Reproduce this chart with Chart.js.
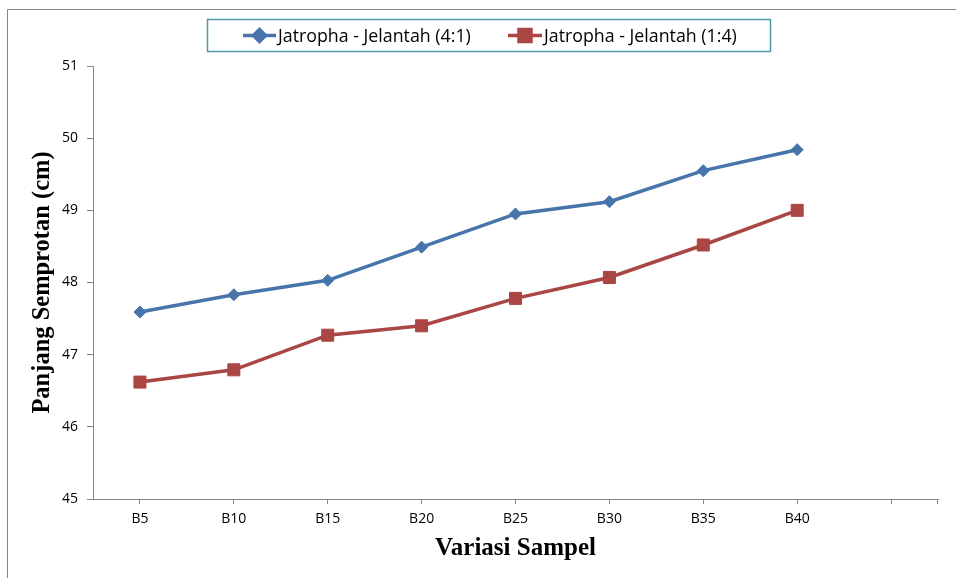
<!DOCTYPE html>
<html>
<head>
<meta charset="utf-8">
<script src="https://cdn.jsdelivr.net/npm/chart.js@4/dist/chart.umd.min.js"></script>
<style>
  html, body { margin: 0; padding: 0; background: #fff; }
  canvas { display: block; }
</style>
</head>
<body>
<canvas id="c" width="956" height="578"></canvas>
<script>
// Sample variations (B-blends); the last slot is left empty on the axis
const categories = ['B5', 'B10', 'B15', 'B20', 'B25', 'B30', 'B35', 'B40', ''];

// Spray length (cm) per blend
const jatrophaJelantah41 = [47.59, 47.83, 48.03, 48.49, 48.95, 49.12, 49.55, 49.84];
const jatrophaJelantah14 = [46.62, 46.79, 47.27, 47.40, 47.78, 48.07, 48.52, 49.00];

const seriesNames = ['Jatropha - Jelantah (4:1)', 'Jatropha - Jelantah (1:4)'];
const yTicks = [45, 46, 47, 48, 49, 50, 51];

const BLUE = '#4674AB';
const RED = '#AA4643';
const AXIS = '#868686';

// Frame around the chart, a boxed legend, and the closing tick at the end of the x axis
const decorations = {
  id: 'decorations',
  afterDraw(chart) {
    const ctx = chart.ctx;
    const area = chart.chartArea;
    ctx.save();

    // outer frame (top and left edges)
    ctx.strokeStyle = AXIS;
    ctx.lineWidth = 1;
    ctx.beginPath();
    ctx.moveTo(7.5, chart.height);
    ctx.lineTo(7.5, 9.5);
    ctx.lineTo(chart.width, 9.5);
    ctx.stroke();

    // closing tick at the right end of the x axis
    ctx.beginPath();
    ctx.moveTo(Math.round(area.right) - 0.5, area.bottom);
    ctx.lineTo(Math.round(area.right) - 0.5, area.bottom + 5);
    ctx.stroke();

    // legend box
    ctx.strokeStyle = '#4F9AAF';
    ctx.lineWidth = 1.5;
    ctx.strokeRect(207.5, 19.5, 563, 32);

    const ly = 35.5;
    const items = [
      { x0: 243, x1: 276, color: BLUE, style: 'rectRot', r: 6, text: seriesNames[0], tx: 278 },
      { x0: 508, x1: 542, color: RED, style: 'rect', r: 8.5, text: seriesNames[1], tx: 544 }
    ];
    ctx.font = '17.8px "Open Sans"';
    ctx.textBaseline = 'middle';
    ctx.textAlign = 'left';
    items.forEach(it => {
      ctx.strokeStyle = it.color;
      ctx.lineWidth = 3.5;
      ctx.beginPath();
      ctx.moveTo(it.x0, ly);
      ctx.lineTo(it.x1, ly);
      ctx.stroke();
      ctx.fillStyle = it.color;
      Chart.helpers.drawPoint(ctx, {
        pointStyle: it.style, radius: it.r, borderWidth: 1, rotation: 0
      }, (it.x0 + it.x1) / 2, ly);
      ctx.fillStyle = '#000';
      ctx.fillText(it.text, it.tx, ly + 1);
    });

    ctx.restore();
  }
};

new Chart(document.getElementById('c'), {
  type: 'line',
  data: {
    labels: categories,
    datasets: [
      {
        label: seriesNames[0],
        data: jatrophaJelantah41,
        borderColor: BLUE,
        backgroundColor: BLUE,
        borderWidth: 3.5,
        pointStyle: 'rectRot',
        pointRadius: 6,
        pointBorderWidth: 1,
        tension: 0
      },
      {
        label: seriesNames[1],
        data: jatrophaJelantah14,
        borderColor: RED,
        backgroundColor: RED,
        borderWidth: 3.5,
        pointStyle: 'rect',
        pointRadius: 8.5,
        pointBorderWidth: 1,
        tension: 0
      }
    ]
  },
  options: {
    responsive: false,
    animation: false,
    devicePixelRatio: 1,
    layout: { padding: { top: 66, right: 18, left: 0, bottom: 0 } },
    plugins: {
      legend: { display: false },
      tooltip: { enabled: false }
    },
    scales: {
      x: {
        type: 'category',
        offset: true,
        grid: {
          display: true,
          offset: false,
          drawOnChartArea: false,
          drawTicks: true,
          tickLength: 5,
          color: AXIS
        },
        border: { display: true, color: AXIS, width: 1 },
        ticks: {
          color: '#000',
          font: { family: 'Open Sans', size: 14 },
          padding: 7,
          maxRotation: 0,
          autoSkip: false
        },
        title: {
          display: true,
          text: 'Variasi Sampel',
          color: '#000',
          font: { family: 'Liberation Serif', size: 25, weight: 'bold' },
          padding: { top: 0, bottom: 14 }
        },
        afterFit(scale) { scale.height = 79; }
      },
      y: {
        min: 45,
        max: 51,
        afterBuildTicks(scale) { scale.ticks = yTicks.map(v => ({ value: v })); },
        grid: {
          display: true,
          drawOnChartArea: false,
          drawTicks: true,
          tickLength: 6,
          color: AXIS
        },
        border: { display: true, color: AXIS, width: 1 },
        ticks: {
          color: '#000',
          font: { family: 'Open Sans', size: 14 },
          padding: 9
        },
        title: {
          display: true,
          text: 'Panjang Semprotan (cm)',
          color: '#000',
          font: { family: 'Liberation Serif', size: 24.5, weight: 'bold' },
          padding: { top: 28, bottom: 0 }
        },
        afterFit(scale) { scale.width = 93; }
      }
    }
  },
  plugins: [decorations]
});
</script>
</body>
</html>
